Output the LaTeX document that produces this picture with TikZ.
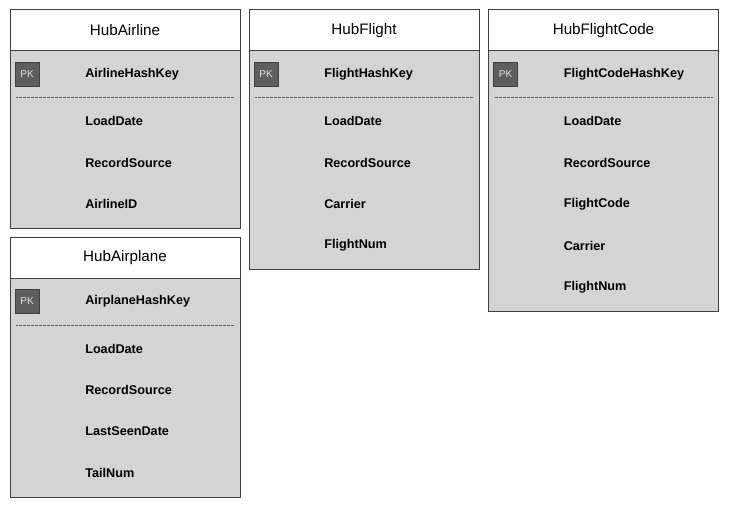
\documentclass[tikz,border=0pt]{standalone}
\usepackage{fontspec}
\setmainfont{Liberation Sans}
\definecolor{bodygray}{HTML}{D4D4D4}
\definecolor{edgegray}{HTML}{404040}
\definecolor{pkgray}{HTML}{5E5E5E}
\definecolor{pktext}{HTML}{E2E2E2}
\tikzset{
  bodyfill/.style={fill=bodygray,draw=edgegray,line width=0.75pt},
  headfill/.style={fill=white,draw=edgegray,line width=0.75pt},
  titletext/.style={font=\fontsize{11.4}{13}\selectfont,text=black,inner sep=0pt},
  pkbox/.style={fill=pkgray,draw=edgegray,line width=0.6pt,minimum width=18pt,minimum height=18pt,inner sep=0pt,font=\fontsize{7.5}{9}\selectfont,text=pktext},
  fieldtext/.style={font=\bfseries\fontsize{9.5}{11}\selectfont,anchor=west,inner sep=0pt,text=black},
  septext/.style={draw=edgegray!85,dash pattern=on 0.5pt off 0.5pt,line width=0.6pt}
}
% #1 name, #2 left, #3 top, #4 bottom, #5 title, #6 key field
\newcommand\hubtable[6]{%
  \draw[bodyfill] (#2,#3+40.7) rectangle (#2+230,#4);
  \draw[headfill] (#2,#3) rectangle (#2+230,#3+40.7);
  \node[titletext] (#1-title) at (#2+115,#3+20.5) {#5};
  \node[pkbox] (#1-pk) at (#2+17,#3+64) {PK};
  \node[fieldtext] (#1-key) at (#2+75,#3+64) {#6};
  \coordinate (#1-sepL) at (#2+6,#3+87.5);
  \coordinate (#1-sepR) at (#2+224,#3+87.5);
  \draw[septext] (#1-sepL) -- (#1-sepR);
}
\begin{document}
\begin{tikzpicture}[x=0.75pt,y=-0.75pt]
\useasboundingbox (0,0) rectangle (731,506);
% HubAirline
\hubtable{ha}{10}{10}{228}{HubAirline}{AirlineHashKey}
\foreach \t [count=\i] in {LoadDate,RecordSource,AirlineID}
  \node[fieldtext] (ha-f\i) at (85,{10+111+41.5*(\i-1)}) {\t};
% HubFlight
\hubtable{hf}{249}{10}{269}{HubFlight}{FlightHashKey}
\foreach \t [count=\i] in {LoadDate,RecordSource,Carrier,FlightNum}
  \node[fieldtext] (hf-f\i) at (324,{10+111+41.5*(\i-1)}) {\t};
% HubFlightCode
\hubtable{hc}{488.5}{10}{311}{HubFlightCode}{FlightCodeHashKey}
\foreach \t [count=\i] in {LoadDate,RecordSource,FlightCode,Carrier,FlightNum}
  \node[fieldtext] (hc-f\i) at (563.5,{10+111+41.5*(\i-1)}) {\t};
% HubAirplane
\hubtable{hp}{10}{237.5}{497}{HubAirplane}{AirplaneHashKey}
\foreach \t [count=\i] in {LoadDate,RecordSource,LastSeenDate,TailNum}
  \node[fieldtext] (hp-f\i) at (85,{237.5+111+41.5*(\i-1)}) {\t};
\end{tikzpicture}
\end{document}
